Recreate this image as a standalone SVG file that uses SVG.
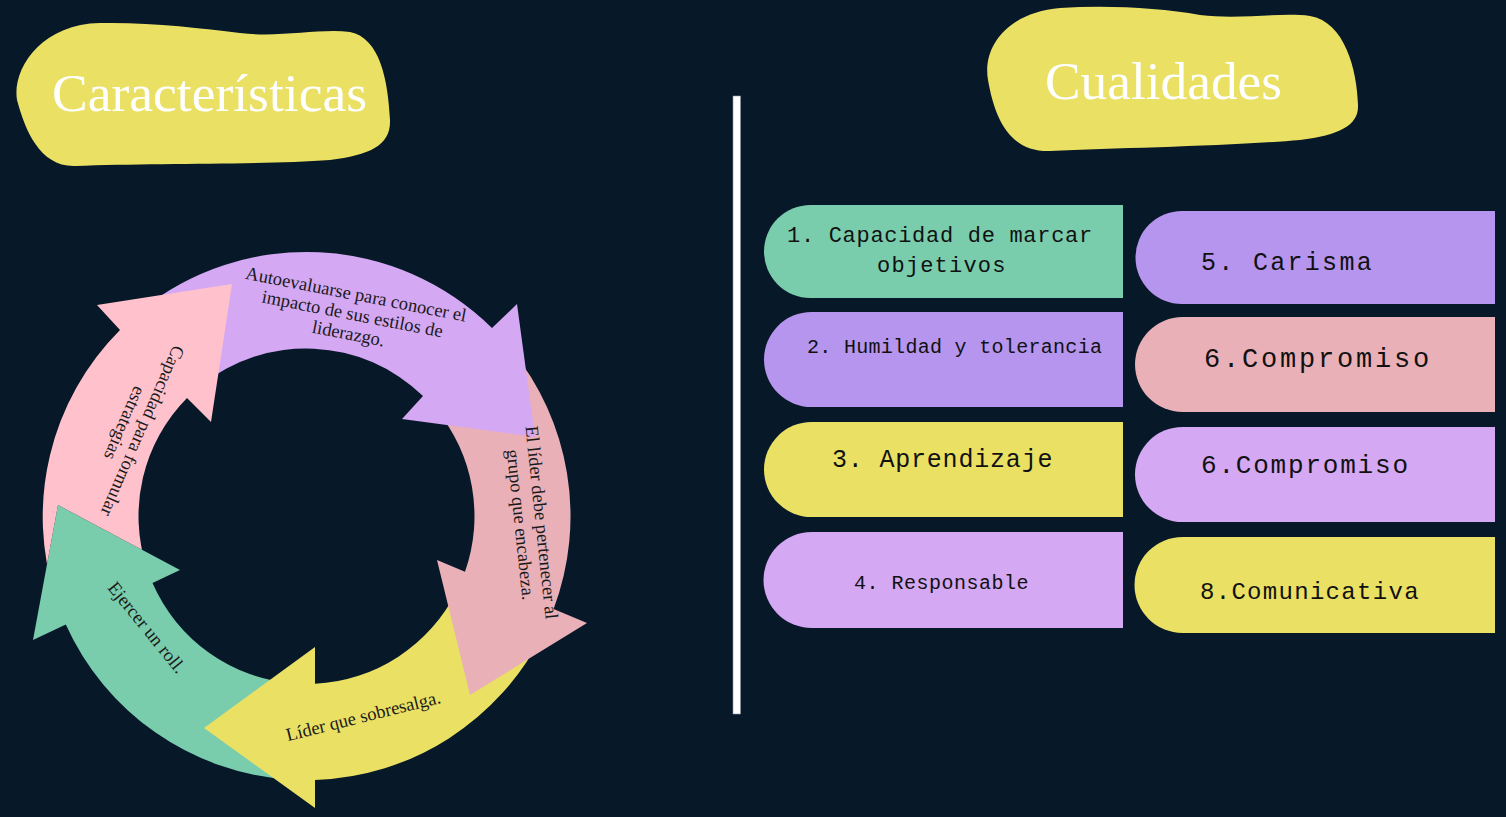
<svg xmlns="http://www.w3.org/2000/svg" width="1506" height="817" viewBox="0 0 1506 817">
<style>
.title{font-family:"Liberation Serif","DejaVu Serif",serif;font-size:52px;fill:#ffffff}
.blob{fill:#EAE064}
.at{font-family:"Liberation Serif","DejaVu Serif",serif;font-size:18.5px;fill:#1a1a1a;text-anchor:middle}
.bt{font-family:"Liberation Mono","DejaVu Sans Mono",monospace;fill:#111111}
.green{fill:#79CDAD}.violet{fill:#B595EE}.lilac{fill:#D4A8F3}.yellow{fill:#EAE064}.rose{fill:#E9B0B8}.lpink{fill:#FFC2CC}
</style>
<defs>
<clipPath id="cutGreenHead">
<path clip-rule="evenodd" d="M0 0H1506V817H0Z M58 505 L33 640 L180 570 Z"/>
</clipPath>
</defs>
<rect width="1506" height="817" fill="#071829"/>

<g id="title-caracteristicas">
<path class="blob" d="M100 23 C150 22 200 28 240 33 C280 38 320 28 350 32 C380 38 388 80 390 120 C391 145 370 155 330 160 C260 165 150 163 75 166 C40 167 25 130 17 100 C12 70 40 24 100 23 Z"/>
<text class="title" x="52" y="111" textLength="315" lengthAdjust="spacingAndGlyphs">Características</text>
</g>

<g id="title-cualidades">
<path class="blob" d="M1060 8 C1110 5 1160 8 1200 15 C1240 20 1280 12 1310 16 C1345 22 1357 70 1358 105 C1359 125 1340 135 1300 140 C1230 146 1120 148 1050 151 C1010 152 995 120 988 80 C982 45 1010 12 1060 8 Z"/>
<text class="title" x="1045" y="99" textLength="237" lengthAdjust="spacingAndGlyphs">Cualidades</text>
</g>

<g id="divider">
<rect x="733" y="96" width="7.5" height="618" fill="#ffffff" stroke="#8a96a3" stroke-width="0.6"/>
</g>

<g id="cycle">
<g id="arrow-ejercer">
<path class="green" d="M287.2 779.3 A264 264 0 0 1 65.8 624.4 L33 640 L58 505 L180 570 L152.5 583.1 A168 168 0 0 0 294.2 683.5 Z"/>
<text class="at" transform="translate(146.7 627.5) rotate(51)" y="6">Ejercer un roll.</text>
</g>
<g id="arrow-lider">
<path class="yellow" d="M542.6 634.2 A264 264 0 0 1 315 779.9 L315 808 L204 728 L315 647 L315 683.8 A168 168 0 0 0 456.7 591.2 Z"/>
<text class="at" transform="translate(364.7 722) rotate(-14)" y="0">Líder que sobresalga.</text>
</g>
<g id="arrow-pertenecer">
<path class="rose" d="M510.5 348.4 A264 264 0 0 1 553.6 609 L587 623 L470 695 L437 560 L465 571.7 A168 168 0 0 0 436.3 409.4 Z"/>
</g>
<g id="arrow-autoevaluarse">
<path class="lilac" d="M140.4 310.8 A264 264 0 0 1 492 328 L517 304 L535 437 L402 419 L423 396 A168 168 0 0 0 200.8 385.4 Z"/>
<text class="at" transform="translate(352.5 313) rotate(11)"><tspan x="0" y="-13">Autoevaluarse para conocer el</tspan><tspan x="0" y="7">impacto de sus estilos de</tspan><tspan x="0" y="27">liderazgo.</tspan></text>
</g>
<g id="arrow-capacidad">
<path class="lpink" clip-path="url(#cutGreenHead)" d="M55.7 598.4 A264 264 0 0 1 120 330 L97 305 L232 284 L211 422 L187 398 A168 168 0 0 0 146.9 568.5 Z"/>
<text class="at" transform="translate(142.5 431) rotate(113.6)"><tspan x="0" y="6">Capacidad para formular</tspan><tspan x="0" y="25.5">estrategias</tspan></text>
</g>
<g id="arrow-pertenecer-label">
<text class="at" transform="translate(541.5 522.5) rotate(84)"><tspan x="0" y="6">El líder debe pertenecer al</tspan><tspan x="0" y="27">grupo que encabeza.</tspan></text>
</g>
</g>

<g id="quality-1">
<path class="green" d="M810.5 205 H1123 V298 H810.5 A46.5 46.5 0 0 1 810.5 205 Z"/>
<text class="bt" style="font-size:22px;letter-spacing:0.7px" x="787" y="242">1. Capacidad de marcar</text>
<text class="bt" style="font-size:22px;letter-spacing:1.2px" x="877" y="272">objetivos</text>
</g>
<g id="quality-2">
<path class="violet" d="M811.5 312 H1123 V407 H811.5 A47.5 47.5 0 0 1 811.5 312 Z"/>
<text class="bt" style="font-size:20px;letter-spacing:0.3px" x="807" y="353">2. Humildad y tolerancia</text>
</g>
<g id="quality-3">
<path class="yellow" d="M811.5 422 H1123 V517 H811.5 A47.5 47.5 0 0 1 811.5 422 Z"/>
<text class="bt" style="font-size:25px;letter-spacing:0.8px" x="832" y="467">3. Aprendizaje</text>
</g>
<g id="quality-4">
<path class="lilac" d="M811.5 532 H1123 V628 H811.5 A48 48 0 0 1 811.5 532 Z"/>
<text class="bt" style="font-size:20px;letter-spacing:0.5px" x="854" y="589">4. Responsable</text>
</g>
<g id="quality-5">
<path class="violet" d="M1182 211 H1495 V304 H1182 A46.5 46.5 0 0 1 1182 211 Z"/>
<text class="bt" style="font-size:25px;letter-spacing:2.3px" x="1201" y="270">5. Carisma</text>
</g>
<g id="quality-6">
<path class="rose" d="M1182.5 317 H1495 V412 H1182.5 A47.5 47.5 0 0 1 1182.5 317 Z"/>
<text class="bt" style="font-size:27px;letter-spacing:2.8px" x="1204" y="367">6.Compromiso</text>
</g>
<g id="quality-7">
<path class="lilac" d="M1182.5 427 H1495 V522 H1182.5 A47.5 47.5 0 0 1 1182.5 427 Z"/>
<text class="bt" style="font-size:26px;letter-spacing:1.8px" x="1201" y="473">6.Compromiso</text>
</g>
<g id="quality-8">
<path class="yellow" d="M1182.5 537 H1495 V633 H1182.5 A48 48 0 0 1 1182.5 537 Z"/>
<text class="bt" style="font-size:24px;letter-spacing:1.3px" x="1200" y="599">8.Comunicativa</text>
</g>
</svg>
